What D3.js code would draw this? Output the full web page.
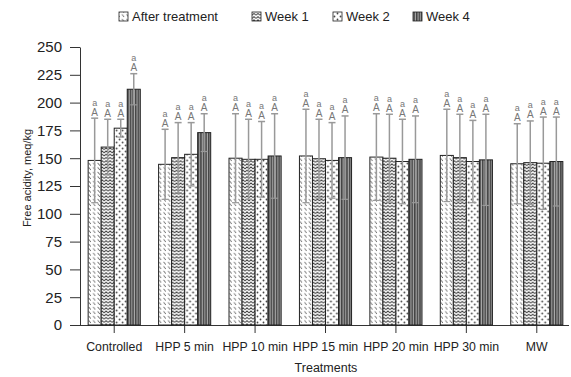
<!DOCTYPE html>
<html><head><meta charset="utf-8">
<script src="https://cdn.jsdelivr.net/npm/d3@7"></script>
<style>body{margin:0;background:#fff}svg{display:block}text{font-family:"Liberation Sans",Arial,sans-serif}</style>
</head><body><svg id="c" width="571" height="377"></svg>
<script>
const categories = ["Controlled","HPP 5 min","HPP 10 min","HPP 15 min","HPP 20 min","HPP 30 min","MW"];
const seriesNames = ["After treatment","Week 1","Week 2","Week 4"];
const afterTreatment = [148, 144.5, 150, 152, 151, 152.5, 145];
const week1 = [160, 150.5, 149, 149.5, 150, 150.5, 146];
const week2 = [177, 153.5, 149, 148, 147, 147, 145.5];
const week4 = [212, 173, 152, 150.5, 149, 148.5, 147];
const errAfter = [38, 31.5, 40, 42, 39, 41.5, 36];
const errWeek1 = [25, 31.5, 36, 35.5, 39.5, 39, 37.5];
const errWeek2 = [8, 28.5, 34, 34, 38, 37, 41.5];
const errWeek4 = [14, 17, 38, 37.5, 39, 41, 40];
const lowerLetters = ["a","a","a","a"];
const upperLetters = ["A","A","A","A"];
const yTicks = [0,25,50,75,100,125,150,175,200,225,250];

const FONT = '"Liberation Sans",Arial,sans-serif';
const values = [afterTreatment, week1, week2, week4];
const errs = [errAfter, errWeek1, errWeek2, errWeek4];
const svg = d3.select("#c");
const defs = svg.append("defs");
// patterns
const p0 = defs.append("pattern").attr("id","pat0").attr("patternUnits","userSpaceOnUse").attr("width",4.5).attr("height",4.5);
p0.append("rect").attr("width",4.5).attr("height",4.5).attr("fill","#fff");
p0.append("path").attr("d","M0.5,0.8 L2.6,3.6").attr("stroke","#555").attr("stroke-width",0.9);
const p1 = defs.append("pattern").attr("id","pat1").attr("patternUnits","userSpaceOnUse").attr("width",4).attr("height",3.2);
p1.append("rect").attr("width",4).attr("height",3.2).attr("fill","#fff");
p1.append("path").attr("d","M0,2.4 L2,0.6 L4,2.4").attr("stroke","#333").attr("stroke-width",0.9).attr("fill","none");
const p2 = defs.append("pattern").attr("id","pat2").attr("patternUnits","userSpaceOnUse").attr("width",6).attr("height",6);
p2.append("rect").attr("width",6).attr("height",6).attr("fill","#fff");
p2.append("circle").attr("cx",1.5).attr("cy",1.5).attr("r",0.9).attr("fill","#444");
p2.append("circle").attr("cx",4.5).attr("cy",4.5).attr("r",0.9).attr("fill","#444");
const p3 = defs.append("pattern").attr("id","pat3").attr("patternUnits","userSpaceOnUse").attr("width",2.6).attr("height",4);
p3.append("rect").attr("width",2.6).attr("height",4).attr("fill","#aaa");
p3.append("rect").attr("width",1.5).attr("height",4).attr("fill","#444");
const fills = ["url(#pat0)","url(#pat1)","url(#pat2)","url(#pat3)"];

const x0 = d3.scaleBand().domain(categories).range([79,572]).paddingInner(0.26).paddingOuter(0.13);
const x1 = d3.scaleBand().domain(seriesNames).range([0,x0.bandwidth()]);
const y = d3.scaleLinear().domain([0,250]).range([325,47]);

// axes
const gy = svg.append("g").attr("transform","translate(80,0)")
  .call(d3.axisLeft(y).tickValues(yTicks).tickSize(10).tickSizeOuter(0))
  .attr("font-family",FONT);
gy.selectAll("text").attr("font-size",15).attr("fill","#222").attr("x",-18);
gy.selectAll("line,path").attr("stroke","#333");
const gx = svg.append("g").attr("transform","translate(0,325)")
  .call(d3.axisBottom(x0).tickSize(8).tickSizeOuter(0))
  .attr("font-family",FONT);
gx.select("path").attr("d","M80,0.5H569");
gx.selectAll("text").attr("font-size",12.3).attr("fill","#222").attr("dy","1.25em");
gx.selectAll("line,path").attr("stroke","#333");

// bars
categories.forEach((c,i)=>{
  const g = svg.append("g").attr("transform",`translate(${x0(c)},0)`);
  seriesNames.forEach((s,j)=>{
    const v = values[j][i], e = errs[j][i];
    const bx = x1(s), bw = x1.bandwidth();
    g.append("rect").attr("x",bx).attr("y",y(v)).attr("width",bw).attr("height",y(0)-y(v))
      .attr("fill",fills[j]).attr("stroke","#222").attr("stroke-width",1);
    const cx = bx + bw/2;
    g.append("line").attr("x1",cx).attr("x2",cx).attr("y1",y(v-e)).attr("y2",y(v+e)).attr("stroke","#999").attr("stroke-width",1.5);
    g.append("line").attr("x1",cx-3.5).attr("x2",cx+3.5).attr("y1",y(v+e)).attr("y2",y(v+e)).attr("stroke","#999").attr("stroke-width",1.5);
    g.append("line").attr("x1",cx-3.5).attr("x2",cx+3.5).attr("y1",y(v-e)).attr("y2",y(v-e)).attr("stroke","#999").attr("stroke-width",1.2);
    g.append("text").attr("x",cx).attr("y",y(v+e)-2.5).attr("text-anchor","middle").attr("font-size",10).attr("fill","#777").text(upperLetters[j]);
    g.append("text").attr("x",cx).attr("y",y(v+e)-12.5).attr("text-anchor","middle").attr("font-size",9).attr("fill","#777").text(lowerLetters[j]);
  });
});

// axis titles
svg.append("text").attr("transform","translate(31,178) rotate(-90)").attr("text-anchor","middle")
  .attr("font-size",11).attr("fill","#222").text("Free acidity, meq/kg");
svg.append("text").attr("x",326).attr("y",372).attr("text-anchor","middle").attr("font-size",12.5).attr("fill","#222").text("Treatments");

// legend
const legX = [119,252,333,413];
seriesNames.forEach((s,j)=>{
  svg.append("rect").attr("x",legX[j]).attr("y",12).attr("width",9).attr("height",9)
    .attr("fill",fills[j]).attr("stroke","#222").attr("stroke-width",0.8);
  svg.append("text").attr("x",legX[j]+13).attr("y",21).attr("font-size",13).attr("fill","#222").text(s);
});
</script></body></html>
